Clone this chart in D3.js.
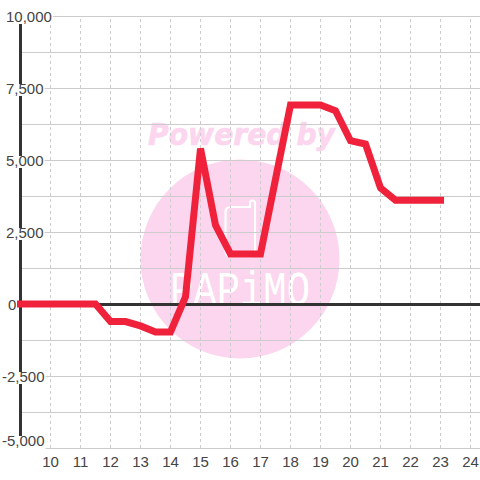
<!DOCTYPE html>
<html>
<head>
<meta charset="utf-8">
<script src="https://cdn.jsdelivr.net/npm/d3@7"></script>
<style>
    html, body { margin: 0; padding: 0; background: #fff; }
    svg { display: block; }
    text { font-family: "Liberation Sans", sans-serif; }
</style>
</head>
<body>
<div id="chart"></div>
<script>
// values
const hours = [9, 9.5, 10, 10.5, 11, 11.5, 12, 12.5, 13, 13.5, 14, 14.5, 15, 15.5, 16, 16.5, 17, 17.5, 18, 18.5, 19, 19.5, 20, 20.5, 21, 21.5, 22, 22.5, 23];
const values = [0, 0, 0, 0, 0, 0, -610, -610, -760, -970, -970, 250, 5400, 2740, 1740, 1740, 1740, 4330, 6910, 6910, 6910, 6710, 5670, 5555, 4030, 3600, 3600, 3600, 3600];
const xTicks = [10, 11, 12, 13, 14, 15, 16, 17, 18, 19, 20, 21, 22, 23, 24];
const yGrid = [-5000, -3750, -2500, -1250, 0, 1250, 2500, 3750, 5000, 6250, 7500, 8750, 10000];
const yLabels = ['10,000', '7,500', '5,000', '2,500', '0', '-2,500', '-5,000'];
const yLabelValues = [10000, 7500, 5000, 2500, 0, -2500, -5000];

const width = 480;
const height = 480;

const x = d3.scaleLinear().domain([9, 24.3]).range([20.5, 479.5]);
const y = d3.scaleLinear().domain([-5000, 10000]).range([448, 16]);

const svg = d3.select('#chart').append('svg')
    .attr('width', width)
    .attr('height', height);

// Watermark sits under the grid
const mark = svg.append('g').attr('class', 'watermark');
mark.append('circle')
    .attr('cx', 240).attr('cy', 259).attr('r', 99.5)
    .attr('fill', '#fcd5ee');
mark.append('text')
    .attr('x', 148).attr('y', 144.5)
    .attr('textLength', 187)
    .attr('lengthAdjust', 'spacingAndGlyphs')
    .style('font-family', '"DejaVu Sans"')
    .style('font-size', '30px')
    .style('font-weight', 'bold')
    .style('font-style', 'italic')
    .attr('fill', '#fcd5ee')
    .attr('stroke', '#fcd5ee')
    .attr('stroke-width', 0.6)
    .text('Powered by');
mark.append('path')
    .attr('d', 'M250,207 H231 Q225.5,207 225.5,212 V251 Q225.5,256.5 231,256.5 H250 Q255,256.5 255,251 V203 Q255,200.5 252.5,200.5 Q250,200.5 250,203 Z')
    .attr('fill', 'none')
    .attr('stroke', '#fff')
    .attr('stroke-width', 2.2);
mark.append('text')
    .attr('x', 170).attr('y', 305)
    .attr('textLength', 140)
    .attr('lengthAdjust', 'spacingAndGlyphs')
    .style('font-family', '"Liberation Mono"')
    .style('font-size', '48px')
    .attr('fill', '#fff')
    .text('PAPiMO');

// Grid
const hGrid = svg.append('g')
    .attr('transform', 'translate(20,0)')
    .call(d3.axisRight(y).tickValues(yGrid).tickSize(460).tickFormat(''));
hGrid.select('.domain').remove();
hGrid.selectAll('line').attr('stroke', '#ccc').attr('stroke-width', 1);

const vGrid = svg.append('g')
    .attr('transform', 'translate(0,448)')
    .call(d3.axisBottom(x).offset(0).tickValues(xTicks).tickSize(0).tickPadding(8).tickFormat(d3.format('d')));
vGrid.select('.domain').remove();
vGrid.selectAll('line')
    .attr('y2', -432)
    .attr('stroke', '#ccc')
    .attr('stroke-width', 1)
    .attr('stroke-dasharray', '3,3');
vGrid.selectAll('text')
    .attr('fill', '#444')
    .style('font-size', '15px');

// Heavy axis lines
svg.append('line')
    .attr('x1', 20.5).attr('x2', 20.5)
    .attr('y1', y(10000)).attr('y2', y(-5000))
    .attr('stroke', '#333').attr('stroke-width', 3);
svg.append('line')
    .attr('x1', 20).attr('x2', 480)
    .attr('y1', y(0) + 0.5).attr('y2', y(0) + 0.5)
    .attr('stroke', '#333').attr('stroke-width', 3);

// Y labels, left aligned with a white box behind them
const labels = svg.selectAll('.y-label')
    .data(yLabelValues)
    .enter().append('g')
    .attr('class', 'y-label')
    // the bottom label is pushed up to stay inside the plot
    .attr('transform', d => `translate(${d < 0 ? 2 : d === 0 ? 8 : 6},${d === -5000 ? y(d) - 8 : y(d)})`);
labels.append('text')
    .attr('y', 5.5)
    .attr('fill', '#444')
    .style('font-size', '15px')
    .text((d, i) => yLabels[i]);
labels.filter(d => d !== 0).each(function (d) {
    const g = d3.select(this);
    const box = g.select('text').node().getBBox();
    g.insert('rect', 'text')
        .attr('x', box.x - 1)
        .attr('y', -4)
        .attr('width', box.width + 2)
        .attr('height', d === -5000 ? 13 : 12)
        .attr('fill', '#fff');
});

// Series
const line = d3.line()
    .x(d => x(d[0]))
    .y(d => y(d[1]));

svg.append('path')
    .datum(d3.zip(hours, values))
    .attr('d', line)
    .attr('fill', 'none')
    .attr('stroke', '#f0213a')
    .attr('stroke-width', 7)
    .attr('stroke-linecap', 'square');
</script>
</body>
</html>
